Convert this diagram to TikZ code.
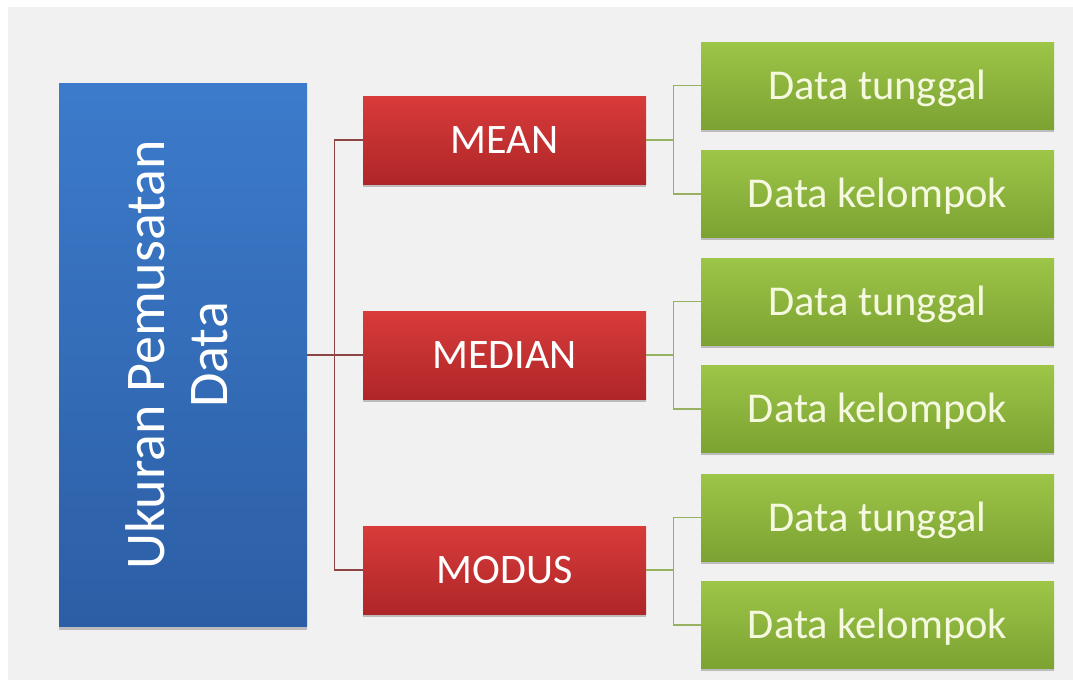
\documentclass[tikz,border=0pt]{standalone}
\usepackage{fontspec}
\setmainfont{Carlito}
\usepackage{graphicx}
\usetikzlibrary{positioning,shadows}

\definecolor{bluetop}{HTML}{3C7BCB}
\definecolor{bluebot}{HTML}{2C5EA5}
\definecolor{redtop}{HTML}{D83B3A}
\definecolor{redbot}{HTML}{AF2628}
\definecolor{greentop}{HTML}{9DC547}
\definecolor{greenbot}{HTML}{7CA232}
\definecolor{redwire}{HTML}{8C4444}
\definecolor{greenwire}{HTML}{97B25E}
\definecolor{greentext}{HTML}{F4F9E0}
\definecolor{backgray}{HTML}{F1F1F1}

\begin{document}
\begin{tikzpicture}[x=1pt, y=-1pt,
    box/.style={inner sep=0pt, drop shadow={shadow xshift=0pt, shadow yshift=-3pt, opacity=.22, fill=black}},
    topic/.style={box, top color=bluetop, bottom color=bluebot, minimum width=248pt, minimum height=543pt, text=white, font=\fontsize{56}{63}\selectfont},
    measure/.style={box, top color=redtop, bottom color=redbot, minimum width=283pt, minimum height=88pt, text=white, text height=27pt, text depth=0pt, font=\fontsize{42}{50}\selectfont},
    kind/.style={box, top color=greentop, bottom color=greenbot, minimum width=353pt, minimum height=87pt, text=greentext, text height=27pt, text depth=0pt, font=\fontsize{42.5}{51}\selectfont},
    redline/.style={draw=redwire, line width=1.3pt},
    greenline/.style={draw=greenwire, line width=1.2pt} ]

    \fill[white] (0,0) rectangle (1073,680);
    \fill[backgray] (8,7) rectangle (1073,680);

    \node[topic] (centre) at (183,355) {\rotatebox{90}{\begin{tabular}{@{}c@{}}Ukuran Pemusatan\\Data\end{tabular}}};

    \node[measure] (mean) at (504.5,140) {MEAN};
    \node[measure] (median) at (504.5,355) {MEDIAN};
    \node[measure] (modus) at (504.5,570) {MODUS};

    \node[kind] (meanA) at (877.5,85.5) {Data tunggal};
    \node[kind] (meanB) [below=21pt of meanA] {Data kelompok};
    \node[kind] (medianA) at (877.5,301.5) {Data tunggal};
    \node[kind] (medianB) [below=20pt of medianA] {Data kelompok};
    \node[kind] (modusA) at (877.5,517.5) {Data tunggal};
    \node[kind] (modusB) [below=20pt of modusA] {Data kelompok};

    \coordinate[left=28pt of median.west] (fork);
    \coordinate[right=27pt of mean.east] (meanfork);
    \coordinate[right=27pt of median.east] (medianfork);
    \coordinate[right=27pt of modus.east] (modusfork);

    \draw[redline] (centre) -- (median);
    \draw[redline] (mean) -| (fork) |- (modus);

    \draw[greenline] (mean) -- (meanfork);
    \draw[greenline] (meanA) -| (meanfork) |- (meanB);
    \draw[greenline] (median) -- (medianfork);
    \draw[greenline] (medianA) -| (medianfork) |- (medianB);
    \draw[greenline] (modus) -- (modusfork);
    \draw[greenline] (modusA) -| (modusfork) |- (modusB);

\end{tikzpicture}
\end{document}
